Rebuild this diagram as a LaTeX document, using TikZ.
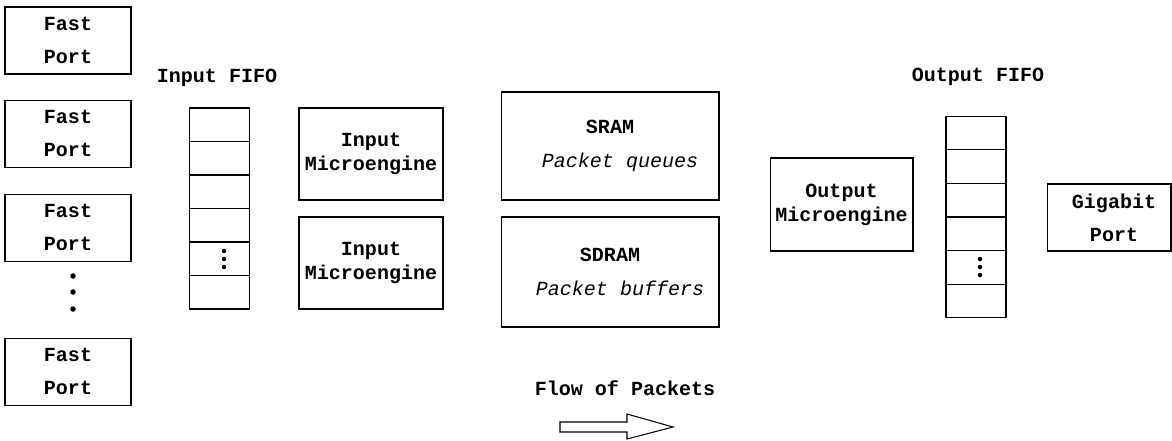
\documentclass[tikz,border=0pt]{standalone}
\usepackage{fontspec}
\setmonofont{Liberation Mono}
\usetikzlibrary{positioning}

\begin{document}
\begin{tikzpicture}[x=0.02cm, y=-0.02cm, line width=0.6pt,
    font=\fontsize{11.4}{13.7}\selectfont\ttfamily\bfseries]
  \tikzstyle{port} = [draw, minimum width=2.52cm, minimum height=1.34cm, align=center, inner sep=0pt]
  \tikzstyle{engine} = [draw, minimum width=2.88cm, minimum height=1.84cm, align=center, inner sep=0pt]
  \tikzstyle{memory} = [draw, minimum width=4.36cm, minimum height=2.16cm, align=center, inner sep=0pt]
  \tikzstyle{cell} = [draw, minimum width=1.19cm, minimum height=0.67cm, inner sep=0pt]
  \tikzstyle{dot} = [circle, fill=black, inner sep=0pt, minimum size=0.09cm]

  \useasboundingbox (0,0) rectangle (1172,440);

  % fast ports on the left
  \node[port] (fp1) at (68,40.5) {Fast\\[5pt]Port};
  \node[port, below=0.5cm of fp1] (fp2) {Fast\\[5pt]Port};
  \node[port, below=0.52cm of fp2] (fp3) {Fast\\[5pt]Port};
  \node[port, below=1.52cm of fp3] (fp4) {Fast\\[5pt]Port};
  \foreach \y [count=\k] in {276,292,309}
    \node[dot, minimum size=0.11cm] (pd\k) at (73,\y) {};

  % input fifo
  \node (infifo) at (217,78) {Input FIFO};
  \foreach \i in {1,...,6}
    \node[cell] (in\i) at (219.5,{108+33.5*\i-16.75}) {};
  \foreach \y [count=\k] in {251,259,267}
    \node[dot] (id\k) at (224,\y) {};

  % microengines
  \node[engine] (ime1) at (371,154) {Input\\Microengine};
  \node[engine] (ime2) at (371,263) {Input\\Microengine};

  % memories
  \node[memory] (sram) at (610,146)
    {SRAM\\[6pt]{\mdseries\itshape\hspace*{1em}Packet queues}};
  \node[memory, minimum height=2.2cm] (sdram) at (610,272)
    {SDRAM\\[6pt]{\mdseries\itshape\hspace*{1em}Packet buffers}};

  \node[engine, minimum width=2.86cm, minimum height=1.86cm] (ome) at (841.5,204.5)
    {Output\\Microengine};

  % output fifo
  \node (outfifo) at (978,77) {Output FIFO};
  \foreach \i in {1,...,6}
    \node[cell, minimum width=1.2cm] (out\i) at (976,{116+33.67*\i-16.83}) {};
  \foreach \y [count=\k] in {259,267,275}
    \node[dot] (od\k) at (980,\y) {};

  \node[port, minimum width=2.48cm] (gp) at (1109,217.5) {\hspace*{0.5em}Gigabit\\[5pt]\hspace*{0.5em}Port};

  % direction of flow
  \node (flow) at (625,388) {Flow of Packets};
  \draw (560,422) -- (627,422) -- (627,414) -- (673,427) -- (627,439)
    -- (627,432) -- (560,432) -- cycle;

\end{tikzpicture}
\end{document}
